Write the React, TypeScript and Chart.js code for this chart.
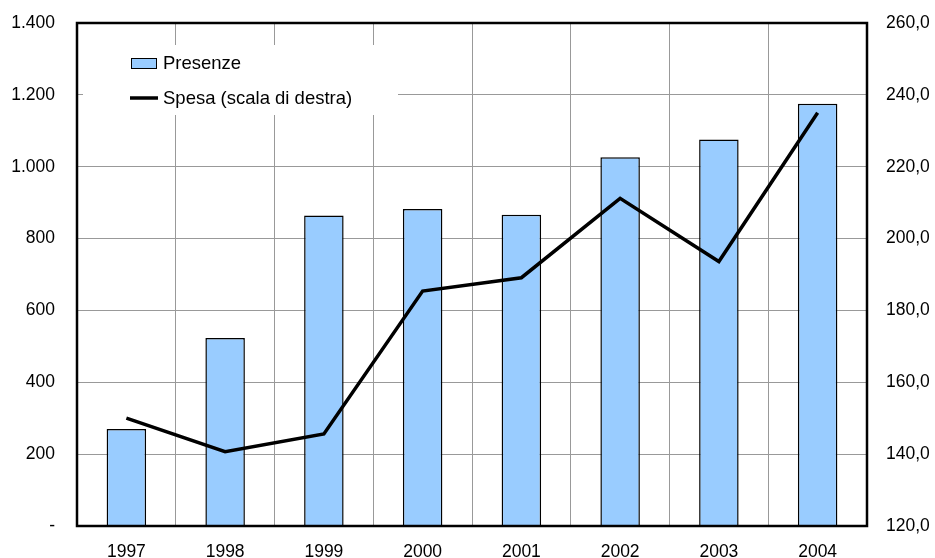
import React, { useEffect, useRef } from "react";
import { Chart, registerables } from "chart.js";

Chart.register(...registerables);

const categories = ["1997", "1998", "1999", "2000", "2001", "2002", "2003", "2004"];
const presenze = [270, 523, 864, 882, 866, 1026, 1076, 1175];
const spesa = [150.0, 140.7, 145.6, 185.4, 189.1, 211.2, 193.6, 235.0];
const leftTicks = [0, 200, 400, 600, 800, 1000, 1200, 1400];
const rightTicks = [120, 140, 160, 180, 200, 220, 240, 260];
const legendLabels = ["Presenze", "Spesa (scala di destra)"];

const FONT = "'Liberation Sans', Arial, sans-serif";

const fmtLeft = (v: number) =>
  v === 0 ? "-" : Math.round(v).toString().replace(/\B(?=(\d{3})+(?!\d))/g, ".");
const fmtRight = (v: number) => v.toFixed(1).replace(".", ",");

const framePlugin = {
  id: "frameLegend",
  afterDraw(chart: any) {
    const { ctx, chartArea: a } = chart;
    ctx.save();
    // legend box
    const bx = a.left + 6;
    const by = a.top + 22;
    ctx.fillStyle = "#ffffff";
    ctx.fillRect(bx, by, 315, 70);
    // swatch
    ctx.fillStyle = "#99ccff";
    ctx.fillRect(a.left + 54, a.top + 35, 26, 11);
    ctx.strokeStyle = "#000";
    ctx.lineWidth = 1;
    ctx.strokeRect(a.left + 54.5, a.top + 35.5, 25, 10);
    // line
    ctx.beginPath();
    ctx.lineWidth = 3.5;
    ctx.moveTo(a.left + 53, a.top + 75);
    ctx.lineTo(a.left + 81, a.top + 75);
    ctx.stroke();
    ctx.fillStyle = "#000";
    ctx.font = `18.5px ${FONT}`;
    ctx.textBaseline = "middle";
    ctx.textAlign = "left";
    ctx.fillText(legendLabels[0], a.left + 86, a.top + 41);
    ctx.fillText(legendLabels[1], a.left + 86, a.top + 76);
    // frame
    ctx.lineWidth = 2.5;
    ctx.strokeStyle = "#000";
    ctx.strokeRect(a.left, a.top, a.right - a.left, a.bottom - a.top);
    ctx.restore();
  },
};

const zeroPad = (s: any) => {
  s.paddingTop = 0;
  s.paddingBottom = 0;
  s.paddingLeft = 0;
  s.paddingRight = 0;
};

export default function App() {
  const ref = useRef<HTMLCanvasElement | null>(null);
  useEffect(() => {
    if (!ref.current) return;
    const chart = new Chart(ref.current, {
      type: "bar",
      data: {
        labels: categories,
        datasets: [
          {
            type: "line",
            label: legendLabels[1],
            data: spesa,
            yAxisID: "y1",
            borderColor: "#000",
            borderWidth: 3.5,
            pointRadius: 0,
            tension: 0,
            order: 0,
          } as any,
          {
            type: "bar",
            label: legendLabels[0],
            data: presenze,
            yAxisID: "y",
            backgroundColor: "#99ccff",
            borderColor: "#000",
            borderWidth: 1.5,
            categoryPercentage: 1,
            barPercentage: 0.4,
            order: 1,
          },
        ],
      },
      options: {
        animation: false,
        responsive: true,
        maintainAspectRatio: false,
        layout: { padding: { top: 23, left: 0, right: 0, bottom: 0 } },
        plugins: { legend: { display: false }, tooltip: { enabled: false } },
        scales: {
          x: {
            grid: { display: true, offset: true, color: "#999", lineWidth: 1, drawTicks: false },
            border: { display: false },
            ticks: { color: "#000", font: { family: FONT, size: 17.5 }, padding: 16 },
            afterFit: (s: any) => {
              s.height = 32;
              zeroPad(s);
            },
          },
          y: {
            position: "left",
            min: 0,
            max: 1400,
            afterBuildTicks: (s: any) => {
              s.ticks = leftTicks.map((v) => ({ value: v }));
            },
            grid: { color: "#999", lineWidth: 1, drawTicks: false },
            border: { display: false },
            ticks: {
              color: "#000",
              font: { family: FONT, size: 17.5 },
              padding: 22,
              callback: (v: any) => fmtLeft(Number(v)),
            },
            afterFit: (s: any) => {
              s.width = 77;
              zeroPad(s);
            },
          },
          y1: {
            position: "right",
            min: 120,
            max: 260,
            afterBuildTicks: (s: any) => {
              s.ticks = rightTicks.map((v) => ({ value: v }));
            },
            grid: { display: false, drawTicks: false },
            border: { display: false },
            ticks: {
              color: "#000",
              font: { family: FONT, size: 17.5 },
              padding: 19,
              callback: (v: any) => fmtRight(Number(v)),
            },
            afterFit: (s: any) => {
              s.width = 68;
              zeroPad(s);
            },
          },
        },
      },
      plugins: [framePlugin],
    });
    return () => chart.destroy();
  }, []);
  return (
    <div style={{ position: "absolute", left: 0, top: 0, width: 935, height: 558, background: "#fff" }}>
      <canvas ref={ref} />
    </div>
  );
}
